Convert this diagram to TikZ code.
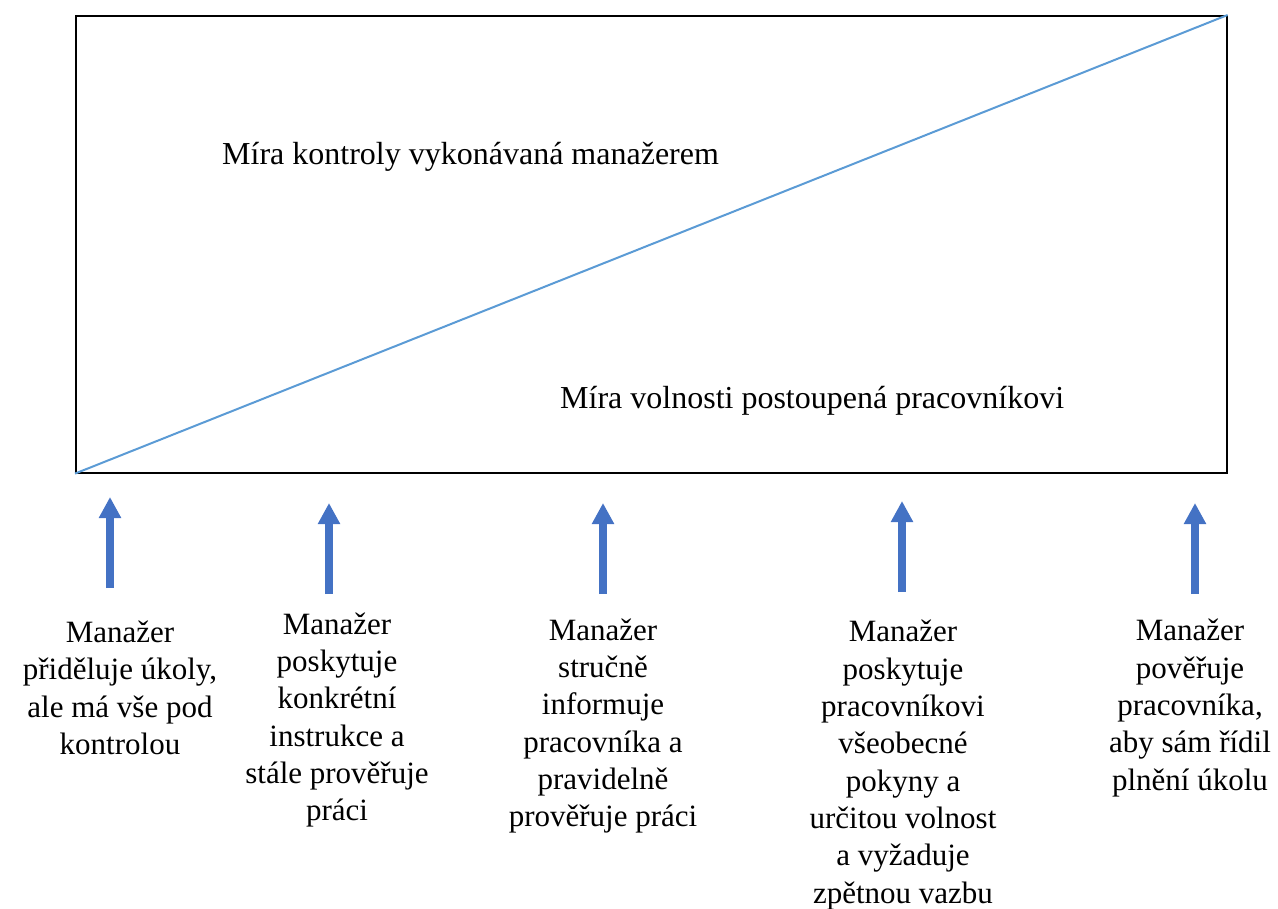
\documentclass[tikz,border=0pt]{standalone}
\usepackage{fontspec}
\setmainfont{Liberation Serif}
\usetikzlibrary{arrows.meta}
\definecolor{diag}{HTML}{5B9BD5}
\definecolor{arr}{HTML}{4472C4}
\begin{document}
\begin{tikzpicture}[x=1pt,y=-1pt,
  lbl/.style={align=center,inner sep=0pt,font=\fontsize{31}{37.3}\selectfont},
  txt/.style={inner sep=0pt,font=\fontsize{32}{37}\selectfont},
  up/.style={draw=arr,line width=7.5pt,-{Triangle[width=21pt,length=21pt]}}]
\useasboundingbox (0,0) rectangle (1278,909);
\node[draw=black,line width=1.6pt,inner sep=0pt,minimum width=1151pt,minimum height=457pt,anchor=north west] (box) at (75,15) {};
\draw[diag,line width=2pt] (box.south west) -- (box.north east);
\node[txt,anchor=west] (t1) at (222,157) {Míra kontroly vykonávaná manažerem};
\node[txt,anchor=west] (t2) at (560,401) {Míra volnosti postoupená pracovníkovi};

\node[lbl] (l1) at (120,688) {Manažer\\přiděluje úkoly,\\ale má vše pod\\kontrolou};
\node[lbl] (l2) at (337,720) {Manažer\\poskytuje\\konkrétní\\instrukce a\\stále prověřuje\\práci};
\node[lbl] (l3) at (603,726) {Manažer\\stručně\\informuje\\pracovníka a\\pravidelně\\prověřuje práci};
\node[lbl] (l4) at (903,765) {Manažer\\poskytuje\\pracovníkovi\\všeobecné\\pokyny a\\určitou volnost\\a vyžaduje\\zpětnou vazbu};
\node[lbl] (l5) at (1190,708) {Manažer\\pověřuje\\pracovníka,\\aby sám řídil\\plnění úkolu};

\coordinate (a1s) at (110,588); \coordinate (a1e) at (110,497);
\coordinate (a2s) at (329,594); \coordinate (a2e) at (329,503);
\coordinate (a3s) at (603,594); \coordinate (a3e) at (603,503);
\coordinate (a4s) at (902,592); \coordinate (a4e) at (902,501);
\coordinate (a5s) at (1195,594); \coordinate (a5e) at (1195,503);
\draw[up] (a1s) -- (a1e);
\draw[up] (a2s) -- (a2e);
\draw[up] (a3s) -- (a3e);
\draw[up] (a4s) -- (a4e);
\draw[up] (a5s) -- (a5e);
\end{tikzpicture}
\end{document}
